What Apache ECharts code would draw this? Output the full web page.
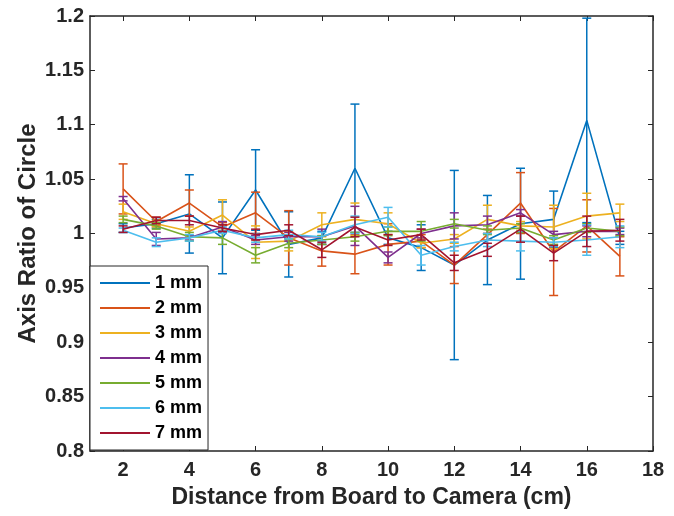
<!DOCTYPE html>
<html>
<head>
<meta charset="utf-8">
<script src="https://cdn.jsdelivr.net/npm/echarts@6/dist/echarts.min.js"></script>
<style>
html,body{margin:0;padding:0;background:#fff;}
#chart{width:674px;height:516px;}
</style>
</head>
<body>
<div id="chart"></div>
<script>
// ---- data ----
const distances = [2,3,4,5,6,7,8,9,10,11,12,13,14,15,16,17];
const seriesNames = ['1 mm','2 mm','3 mm','4 mm','5 mm','6 mm','7 mm'];
const xTicks = [2,4,6,8,10,12,14,16,18];

const ratio1mm = [1.005,1.009,1.018,0.996,1.040,0.990,0.996,1.060,0.996,0.987,0.971,0.994,1.009,1.013,1.104,0.996];
const err1mm   = [0.004,0.004,0.036,0.033,0.037,0.030,0.006,0.059,0.006,0.021,0.087,0.041,0.051,0.026,0.094,0.006];

const ratio2mm = [1.041,1.011,1.028,1.006,1.019,0.996,0.984,0.981,0.990,0.993,0.971,0.999,1.028,0.983,1.007,0.979];
const err2mm   = [0.023,0.004,0.012,0.004,0.019,0.025,0.014,0.018,0.019,0.006,0.017,0.005,0.028,0.040,0.024,0.018];

const ratio3mm = [1.020,1.009,1.002,1.017,0.992,0.993,1.008,1.013,1.009,0.991,0.995,1.013,1.007,1.006,1.016,1.019];
const err3mm   = [0.007,0.003,0.004,0.014,0.015,0.009,0.011,0.015,0.010,0.004,0.004,0.013,0.004,0.020,0.021,0.008];

const ratio4mm = [1.032,0.995,0.996,1.006,0.994,0.997,0.997,1.007,0.978,1.000,1.007,1.008,1.019,0.999,1.002,1.002];
const err4mm   = [0.002,0.006,0.002,0.005,0.004,0.004,0.007,0.018,0.005,0.004,0.012,0.008,0.003,0.003,0.005,0.003];

const ratio5mm = [1.013,1.007,0.997,0.996,0.980,0.991,0.994,0.997,1.002,1.002,1.009,1.003,1.005,0.994,1.005,1.002];
const err5mm   = [0.003,0.003,0.004,0.006,0.007,0.004,0.004,0.004,0.004,0.009,0.004,0.004,0.004,0.004,0.004,0.004];

const ratio6mm = [1.003,0.992,0.996,1.003,0.996,0.999,0.997,1.008,1.015,0.980,0.988,0.994,0.993,0.992,0.994,0.997];
const err6mm   = [0.002,0.004,0.003,0.003,0.004,0.004,0.004,0.008,0.009,0.009,0.004,0.006,0.009,0.004,0.014,0.010];

const ratio7mm = [1.004,1.012,1.012,1.005,0.999,1.003,0.985,1.006,0.994,0.999,0.973,0.985,1.004,0.982,1.002,1.003];
const err7mm   = [0.003,0.003,0.004,0.003,0.005,0.005,0.007,0.009,0.005,0.005,0.007,0.006,0.012,0.007,0.014,0.010];

// ---- styling ----
const colors = ['#0072BD','#D95319','#EDB120','#7E2F8E','#77AC30','#4DBEEE','#A2142F'];
const allRatios = [ratio1mm,ratio2mm,ratio3mm,ratio4mm,ratio5mm,ratio6mm,ratio7mm];
const allErrs = [err1mm,err2mm,err3mm,err4mm,err5mm,err6mm,err7mm];
const axisColor = '#262626';
const FONT = 'Liberation Sans, Arial, sans-serif';

function errRenderer(color){
  return function(params, api){
    const x = api.value(0), y = api.value(1), e = api.value(2);
    const t = api.coord([x, y + e]);
    const b = api.coord([x, y - e]);
    const hw = 4.5;
    const st = {stroke: color, lineWidth: 1.5};
    return {type:'group', children:[
      {type:'line', shape:{x1:t[0], y1:t[1], x2:b[0], y2:b[1]}, style: st},
      {type:'line', shape:{x1:t[0]-hw, y1:t[1], x2:t[0]+hw, y2:t[1]}, style: st},
      {type:'line', shape:{x1:b[0]-hw, y1:b[1], x2:b[0]+hw, y2:b[1]}, style: st}
    ]};
  };
}

const series = [];
seriesNames.forEach(function(name, i){
  series.push({
    name: name, type:'line', symbol:'none', z: 2 + i*0.01,
    data: distances.map(function(d, k){ return [d, allRatios[i][k]]; }),
    lineStyle:{color: colors[i], width: 1.6},
    itemStyle:{color: colors[i]},
    animation:false
  });
  series.push({
    name: name + ' err', type:'custom', z: 2 + i*0.01,
    renderItem: errRenderer(colors[i]),
    data: distances.map(function(d, k){ return [d, allRatios[i][k], allErrs[i][k]]; }),
    encode:{x:0, y:1},
    animation:false, silent:true
  });
});

const fmt = function(v){ return String(parseFloat(v.toFixed(2))); };

const option = {
  backgroundColor:'#fff',
  animation:false,
  grid:{left:90, right:21, top:16, bottom:65},
  legend:{
    data: seriesNames,
    orient:'vertical',
    left: 90, top: 266,
    backgroundColor:'#fff',
    borderColor: axisColor, borderWidth:1,
    padding:[8, 6, 8, 10],
    icon:'rect',
    itemWidth:50, itemHeight:2, itemGap:7,
    textStyle:{fontFamily:FONT, fontWeight:'bold', fontSize:18, color:'#000'}
  },
  xAxis:[{
    type:'value', min:1, max:18,
    name:'Distance from Board to Camera (cm)', nameLocation:'middle', nameGap:35,
    nameMoveOverlap:false,
    nameTextStyle:{fontFamily:FONT, fontWeight:'bold', fontSize:23, color:axisColor},
    axisLine:{show:true, lineStyle:{color:axisColor, width:1.5}},
    axisTick:{show:true, inside:true, length:5, customValues: xTicks, lineStyle:{color:axisColor}},
    axisLabel:{customValues: xTicks, margin:9, fontFamily:FONT, fontWeight:'bold', fontSize:20, color:axisColor},
    splitLine:{show:false}
  },{
    type:'value', min:1, max:18, position:'top',
    axisLine:{show:true, lineStyle:{color:axisColor, width:1.5}},
    axisTick:{show:true, inside:true, length:5, customValues: xTicks, lineStyle:{color:axisColor}},
    axisLabel:{show:false},
    splitLine:{show:false}
  }],
  yAxis:[{
    type:'value', min:0.8, max:1.2, interval:0.05,
    name:'Axis Ratio of Circle', nameLocation:'middle', nameGap:50,
    nameMoveOverlap:false,
    nameTextStyle:{fontFamily:FONT, fontWeight:'bold', fontSize:24, color:axisColor},
    axisLine:{show:true, lineStyle:{color:axisColor, width:1.5}},
    axisTick:{show:true, inside:true, length:5, lineStyle:{color:axisColor}},
    axisLabel:{formatter: fmt, margin:6, fontFamily:FONT, fontWeight:'bold', fontSize:20, color:axisColor},
    splitLine:{show:false}
  },{
    type:'value', min:0.8, max:1.2, interval:0.05, position:'right',
    axisLine:{show:true, lineStyle:{color:axisColor, width:1.5}},
    axisTick:{show:true, inside:true, length:5, lineStyle:{color:axisColor}},
    axisLabel:{show:false},
    splitLine:{show:false}
  }],
  series: series
};

const chart = echarts.init(document.getElementById('chart'), null, {renderer:'canvas'});
chart.setOption(option);
</script>
</body>
</html>
